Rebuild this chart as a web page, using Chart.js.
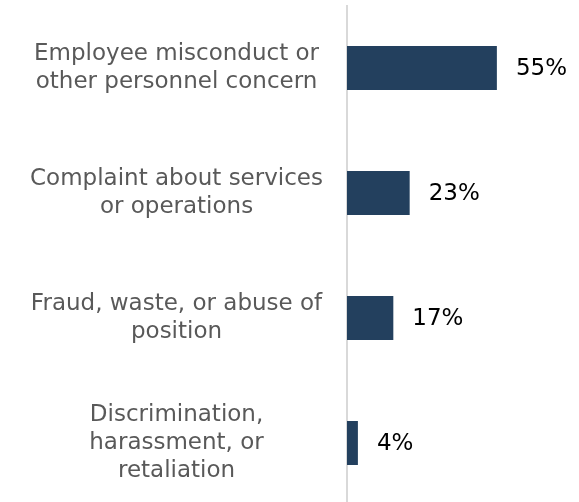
<!DOCTYPE html>
<html>
<head>
<meta charset="utf-8">
<script src="https://cdn.jsdelivr.net/npm/chart.js@4/dist/chart.umd.min.js"></script>
<style>
    html, body { margin: 0; padding: 0; background: #ffffff; overflow: hidden; }
    #wrap { width: 579px; height: 506px; }
</style>
</head>
<body>
<div id="wrap"><canvas id="reasonChart"></canvas></div>
<script>
// --- Data ---
const categories = [
    ['Employee misconduct or', 'other personnel concern'],
    ['Complaint about services', 'or operations'],
    ['Fraud, waste, or abuse of', 'position'],
    ['Discrimination,', 'harassment, or', 'retaliation']
];
const shares = [55, 23, 17, 4];
const valueLabels = ['55%', '23%', '17%', '4%'];

const FONT = "'DejaVu Sans', Verdana, sans-serif";

// Percent labels to the right of each bar
const valueLabelPlugin = {
    id: 'valueLabels',
    afterDatasetsDraw(chart) {
        const ctx = chart.ctx;
        const meta = chart.getDatasetMeta(0);
        ctx.save();
        ctx.font = '23px ' + FONT;
        ctx.fillStyle = '#000000';
        ctx.textAlign = 'left';
        ctx.textBaseline = 'middle';
        meta.data.forEach((bar, i) => {
            ctx.fillText(valueLabels[i], bar.x + 19, bar.y + 1);
        });
        ctx.restore();
    }
};

const ctx = document.getElementById('reasonChart').getContext('2d');

new Chart(ctx, {
    type: 'bar',
    data: {
        labels: categories,
        datasets: [{
            data: shares,
            backgroundColor: '#23405E',
            borderWidth: 0,
            barPercentage: 0.352,
            categoryPercentage: 1.0
        }]
    },
    options: {
        indexAxis: 'y',
        responsive: true,
        maintainAspectRatio: false,
        animation: false,
        // canvas runs a few px past the 502px window, like the original axis
        layout: {
            padding: { top: 5.5, bottom: 0.5, left: 0, right: 14 }
        },
        plugins: {
            legend: { display: false },
            tooltip: { enabled: false }
        },
        scales: {
            x: {
                display: false,
                min: 0,
                max: 80
            },
            y: {
                // fixed label column; no extra room above/below for the labels
                afterFit: (scale) => {
                    scale.width = 347;
                    scale.paddingTop = 0;
                    scale.paddingBottom = 0;
                },
                grid: {
                    display: true,
                    drawOnChartArea: false,
                    drawTicks: false
                },
                border: {
                    display: true,
                    color: '#d9d9d9',
                    width: 2
                },
                ticks: {
                    crossAlign: 'center',
                    padding: 24,
                    color: '#595959',
                    font: { family: FONT, size: 23, lineHeight: 1.22 }
                }
            }
        }
    },
    plugins: [valueLabelPlugin]
});
</script>
</body>
</html>
